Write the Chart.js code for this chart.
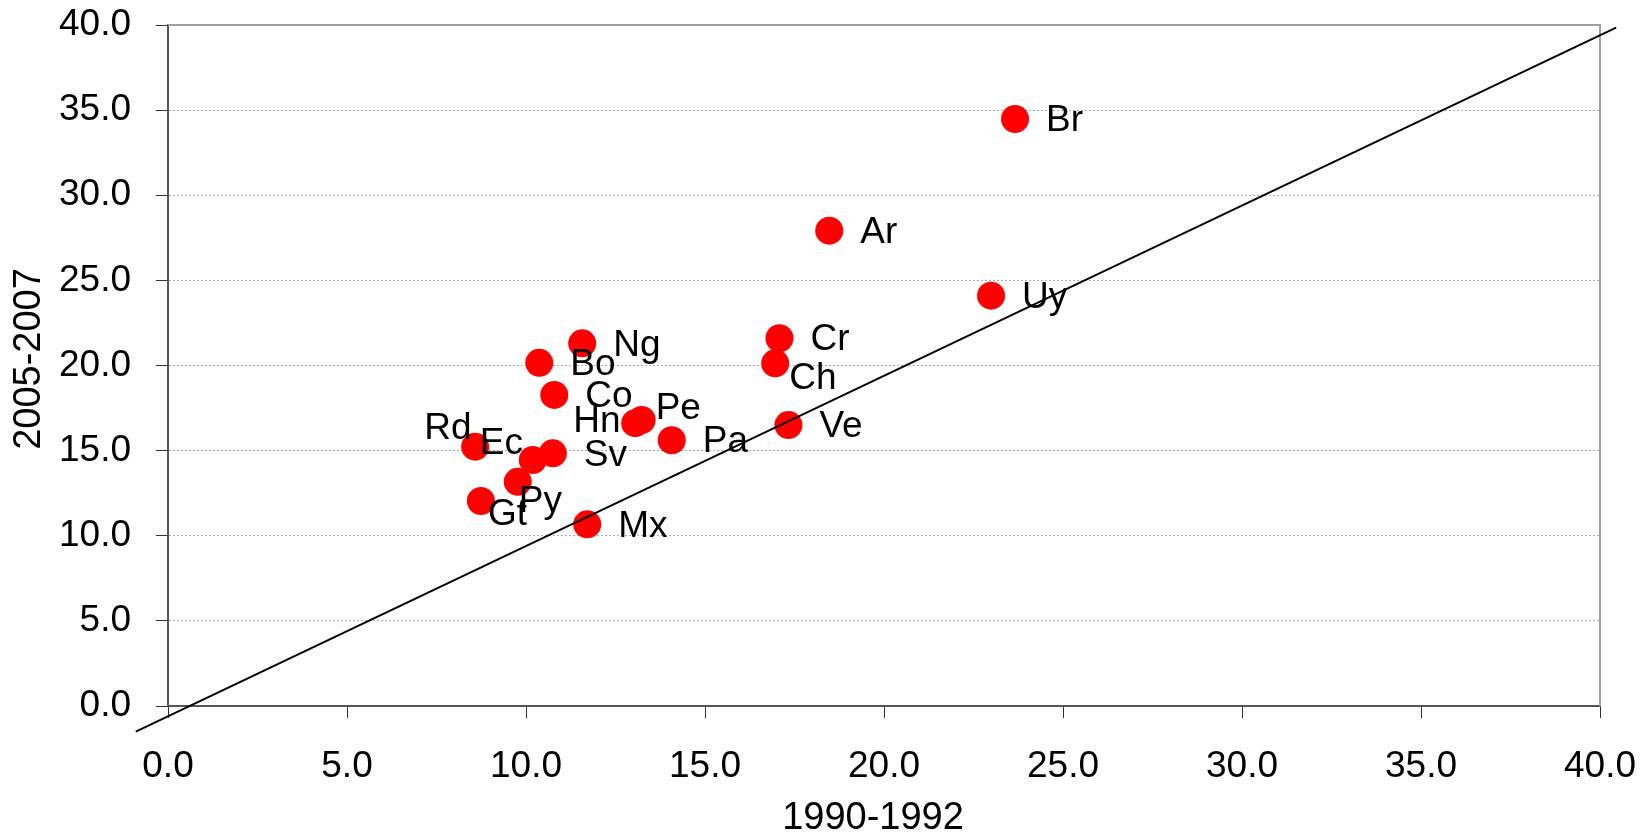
<!DOCTYPE html>
<html>
<head>
<meta charset="utf-8">
<script src="https://cdn.jsdelivr.net/npm/chart.js@4.4.1/dist/chart.umd.min.js"></script>
<style>
  html, body { margin: 0; padding: 0; background: #fff; }
  #wrap { width: 1652px; height: 836px; position: relative; }
</style>
</head>
<body>
<div id="wrap"><canvas id="scatterChart"></canvas></div>
<script>
// Codici paese e valori (1990-1992 sull'asse x, 2005-2007 sull'asse y)
const countries = ["Br", "Ar", "Uy", "Cr", "Ch", "Ve", "Ng", "Bo", "Co", "Pe", "Hn", "Pa", "Rd", "Ec", "Sv", "Py", "Gt", "Mx"];
const values1990 = [23.66, 18.47, 22.99, 17.08, 16.96, 17.33, 11.57, 10.37, 10.79, 13.23, 13.05, 14.07, 8.58, 10.19, 10.75, 9.77, 8.74, 11.71];
const values2005 = [34.48, 27.92, 24.10, 21.60, 20.13, 16.50, 21.30, 20.16, 18.27, 16.80, 16.61, 15.61, 15.23, 14.45, 14.84, 13.17, 12.04, 10.67];

// Retta di riferimento (estremi)
const lineX = [-0.9, 40.45];
const lineY = [-1.5, 39.85];

// Tick e titoli degli assi
const xTicks = [0, 5, 10, 15, 20, 25, 30, 35, 40];
const yTicks = [0, 5, 10, 15, 20, 25, 30, 35, 40];
const xTitle = "1990-1992";
const yTitle = "2005-2007";

const colors = {
  point: "#ff0000",
  text: "#000000",
  axis: "#555555",
  tick: "#333333",
  grid: "#ababab",
  frame: "#a0a0a0",
};

const fontFamily = "'Liberation Sans', Arial, sans-serif";

// Spostamento delle etichette rispetto al punto (px)
const defaultLabelOffset = { dx: 31, dy: 2 };
const labelOffsets = {
  Pe: { dx: 14, dy: -11 },
  Hn: { dx: -62, dy: -1 },
  Rd: { dx: -51, dy: -18 },
  Ec: { dx: -53, dy: -16 },
  Py: { dx: 1, dy: 20 },
  Gt: { dx: 7, dy: 14 },
  Ch: { dx: 14, dy: 16 },
};

const pointData = values1990.map((x, i) => ({ x: x, y: values2005[i] }));
const lineData = lineX.map((x, i) => ({ x: x, y: lineY[i] }));

// Etichette accanto ai punti
const pointLabels = {
  id: "pointLabels",
  afterDatasetsDraw(chart) {
    const ctx = chart.ctx;
    const meta = chart.getDatasetMeta(1);
    ctx.save();
    ctx.font = "37px " + fontFamily;
    ctx.fillStyle = colors.text;
    ctx.textAlign = "left";
    ctx.textBaseline = "middle";
    meta.data.forEach((el, i) => {
      const off = labelOffsets[countries[i]] || defaultLabelOffset;
      ctx.fillText(countries[i], el.x + off.dx, el.y + off.dy);
    });
    ctx.restore();
  },
};

// Bordo superiore e destro dell'area del grafico
const plotFrame = {
  id: "plotFrame",
  beforeDatasetsDraw(chart) {
    const { ctx, chartArea: a } = chart;
    ctx.save();
    ctx.strokeStyle = colors.frame;
    ctx.lineWidth = 2;
    ctx.beginPath();
    ctx.moveTo(a.left, a.top);
    ctx.lineTo(a.right, a.top);
    ctx.lineTo(a.right, a.bottom);
    ctx.stroke();
    ctx.restore();
  },
};

// Titoli degli assi (leggermente spostati come nell'originale)
const axisTitles = {
  id: "axisTitles",
  afterDraw(chart) {
    const { ctx, chartArea: a } = chart;
    ctx.save();
    ctx.font = "38px " + fontFamily;
    ctx.fillStyle = colors.text;
    ctx.textAlign = "center";
    ctx.textBaseline = "middle";
    ctx.fillText(xTitle, (a.left + a.right) / 2 - 11, a.bottom + 113);
    ctx.translate(a.left - 138, (a.top + a.bottom) / 2 - 6.5);
    ctx.rotate(-Math.PI / 2);
    ctx.fillText(yTitle, 0, 0);
    ctx.restore();
  },
};

const ctx = document.getElementById("scatterChart").getContext("2d");
new Chart(ctx, {
  type: "scatter",
  data: {
    datasets: [
      {
        type: "line",
        label: "retta",
        data: lineData,
        showLine: true,
        borderColor: "#000000",
        borderWidth: 2,
        pointRadius: 0,
        fill: false,
        clip: false,
      },
      {
        label: "paesi",
        data: pointData,
        backgroundColor: colors.point,
        borderWidth: 0,
        pointRadius: 14,
        pointHoverRadius: 14,
      },
    ],
  },
  options: {
    responsive: true,
    maintainAspectRatio: false,
    animation: false,
    layout: { padding: { top: 25, right: 52, bottom: 0, left: 0 } },
    plugins: {
      legend: { display: false },
      tooltip: { enabled: false },
    },
    scales: {
      x: {
        type: "linear",
        min: xTicks[0],
        max: xTicks[xTicks.length - 1],
        afterBuildTicks: (scale) => { scale.ticks = xTicks.map((v) => ({ value: v })); },
        afterFit: (scale) => {
          scale.height = 130;
          scale.paddingLeft = 0;
          scale.paddingRight = 0;
        },
        ticks: {
          padding: 27,
          color: colors.text,
          font: { family: fontFamily, size: 37 },
          maxRotation: 0,
          callback: (v) => Number(v).toFixed(1),
        },
        grid: {
          drawOnChartArea: false,
          tickLength: 12,
          tickColor: colors.tick,
          tickWidth: 1,
        },
        border: { color: colors.axis, width: 2 },
        title: { display: false },
      },
      y: {
        type: "linear",
        min: yTicks[0],
        max: yTicks[yTicks.length - 1],
        afterBuildTicks: (scale) => { scale.ticks = yTicks.map((v) => ({ value: v })); },
        afterFit: (scale) => {
          scale.width = 168;
          scale.paddingTop = 0;
          scale.paddingBottom = 0;
        },
        ticks: {
          padding: 25,
          color: colors.text,
          font: { family: fontFamily, size: 37 },
          callback: (v) => Number(v).toFixed(1),
        },
        grid: {
          color: colors.grid,
          lineWidth: 1,
          tickLength: 12,
          tickColor: colors.tick,
          tickWidth: 1,
          tickBorderDash: [],
        },
        border: { color: colors.axis, width: 2, dash: [2, 2] },
        title: { display: false },
      },
    },
  },
  plugins: [plotFrame, pointLabels, axisTitles],
});
</script>
</body>
</html>
